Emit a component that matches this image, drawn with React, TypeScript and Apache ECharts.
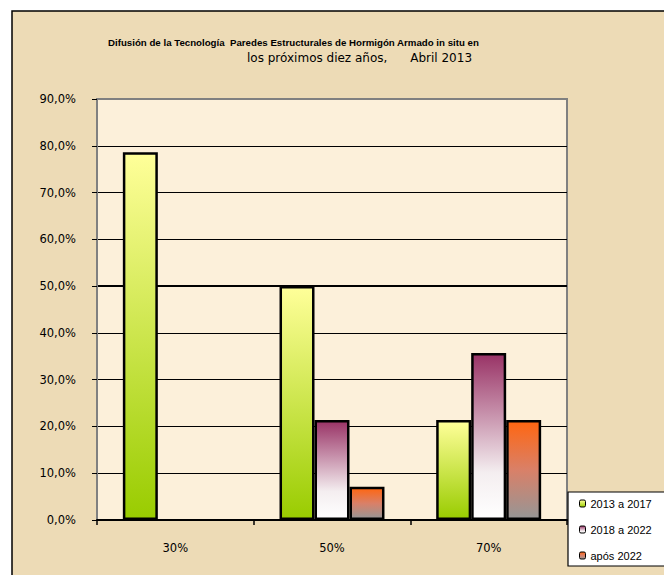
import React, { useEffect, useRef } from "react";
import * as echarts from "echarts";

const categories = ["30%", "50%", "70%"];
const seriesNames = ["2013 a 2017", "2018 a 2022", "após 2022"];
const values2013to2017 = [78.6, 50.0, 21.4];
const values2018to2022 = [0, 21.4, 35.7];
const valuesAfter2022 = [0, 7.1, 21.4];
const yMin = 0;
const yMax = 90;
const yInterval = 10;

const FONT = "DejaVu Sans";

function grad(top: string, bottom: string, mid?: [number, string]) {
  const stops: any[] = [{ offset: 0, color: top }];
  if (mid) stops.push({ offset: mid[0], color: mid[1] });
  stops.push({ offset: 1, color: bottom });
  return new echarts.graphic.LinearGradient(0, 0, 0, 1, stops);
}

const toData = (arr: number[]) =>
  arr.map((v) => (v === 0 ? { value: v, itemStyle: { borderWidth: 0 } } : v));

export default function App() {
  const ref = useRef<HTMLDivElement>(null);
  useEffect(() => {
    if (!ref.current) return;
    const chart = echarts.init(ref.current, undefined, { renderer: "svg" });
    const barStyle = (color: any) => ({
      color,
      borderColor: "#000",
      borderWidth: 2.5,
    });
    chart.setOption({
      animation: false,
      backgroundColor: "#ffffff",
      graphic: [
        {
          type: "rect",
          z: -100,
          silent: true,
          shape: { x: 12, y: 11, width: 720, height: 620 },
          style: { fill: "#eddbb6", stroke: "#000", lineWidth: 1.5 },
        },
      ],
      title: [
        {
          text: "Difusión de la Tecnología  Paredes Estructurales de Hormigón Armado in situ en",
          left: 108,
          top: 37,
          padding: 0,
          textStyle: { fontFamily: "Liberation Sans", fontSize: 9.7, fontWeight: "bold", color: "#000" },
        },
        {
          text: "los próximos diez años,\u00a0\u00a0\u00a0\u00a0\u00a0\u00a0Abril 2013",
          left: 247,
          top: 52,
          padding: 0,
          textStyle: { fontFamily: FONT, fontSize: 12, fontWeight: "normal", color: "#000" },
        },
      ],
      legend: {
        orient: "vertical",
        left: 568,
        top: 492,
        data: seriesNames,
        backgroundColor: "#ffffff",
        borderColor: "#000",
        borderWidth: 1.2,
        padding: [6, 40, 5, 11],
        itemWidth: 6,
        itemHeight: 7,
        itemGap: 15,
        itemStyle: { borderColor: "#000", borderWidth: 1 },
        textStyle: { fontFamily: "Liberation Sans", fontSize: 11, color: "#000" },
      },
      grid: {
        left: 97,
        right: 97,
        top: 99,
        bottom: 55,
        show: true,
        backgroundColor: "#fcf0da",
        borderColor: "#808080",
        borderWidth: 2,
      },
      xAxis: {
        type: "category",
        data: categories,
        axisLine: { lineStyle: { color: "#000", width: 2 } },
        axisTick: { show: true, length: 5, lineStyle: { color: "#000", width: 1.5 } },
        axisLabel: { margin: 22, fontFamily: FONT, fontSize: 11.5, color: "#000" },
      },
      yAxis: [
        {
          type: "value",
          min: yMin,
          max: yMax,
          interval: yInterval,
          axisLine: { show: true, lineStyle: { color: "#808080", width: 2 } },
          axisTick: { show: true, length: 5, lineStyle: { color: "#000", width: 1 } },
          axisLabel: {
            margin: 21,
            fontFamily: FONT,
            fontSize: 11.5,
            color: "#000",
            formatter: (v: number) => v.toFixed(1).replace(".", ",") + "%",
          },
          splitLine: {
            show: true,
            showMinLine: false,
            showMaxLine: false,
            lineStyle: { color: "#000", width: 1 },
          },
        },
        {
          type: "value",
          min: yMin,
          max: yMax,
          interval: 50,
          position: "left",
          axisLine: { show: false },
          axisTick: { show: false },
          axisLabel: { show: false },
          splitLine: {
            show: true,
            showMinLine: false,
            showMaxLine: false,
            lineStyle: { color: "#000", width: 2 },
          },
        },
      ],
      series: [
        {
          name: seriesNames[0],
          type: "bar",
          data: toData(values2013to2017),
          barGap: "0%",
          barCategoryGap: "33%",
          itemStyle: barStyle(grad("#ffff99", "#99cc00")),
        },
        {
          name: seriesNames[1],
          type: "bar",
          data: toData(values2018to2022),
          itemStyle: barStyle(grad("#993366", "#ffffff", [0.72, "#f4eef0"])),
        },
        {
          name: seriesNames[2],
          type: "bar",
          data: toData(valuesAfter2022),
          itemStyle: barStyle(grad("#ff6611", "#969696", [0.5, "#d98068"])),
        },
      ],
    });
    return () => chart.dispose();
  }, []);
  return (
    <div
      ref={ref}
      style={{ position: "fixed", left: 0, top: 0, width: 664, height: 575 }}
    />
  );
}
